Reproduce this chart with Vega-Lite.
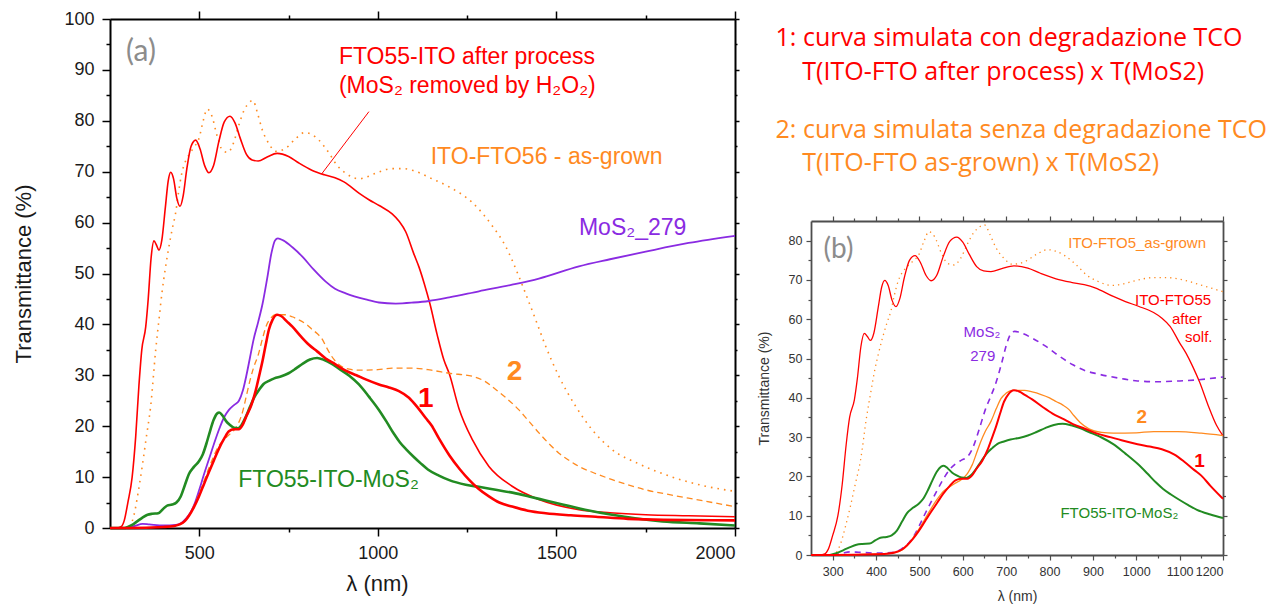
{
  "$schema": "https://vega.github.io/schema/vega-lite/v6.json",
  "background": "white",
  "padding": {"left": 12, "top": 10, "right": 5, "bottom": 5},
  "config": {
    "font": "Liberation Sans",
    "view": {"stroke": null},
    "axis": {"labelFont": "Liberation Sans", "titleFont": "Liberation Sans", "grid": false, "titleFontWeight": "normal", "labelOverlap": false},
    "text": {"font": "Liberation Sans"}
  },
  "datasets": {
    "spectra": [
      {"series":"after","wl":250,"T":0},{"series":"after","wl":270,"T":0},{"series":"after","wl":282,"T":0.3},{"series":"after","wl":290,"T":1.5},{"series":"after","wl":300,"T":5},{"series":"after","wl":312,"T":10},{"series":"after","wl":322,"T":18},{"series":"after","wl":331,"T":28},{"series":"after","wl":339,"T":35},{"series":"after","wl":350,"T":39.5},{"series":"after","wl":357,"T":45},{"series":"after","wl":365,"T":53},{"series":"after","wl":373,"T":56.4},{"series":"after","wl":380,"T":55.6},{"series":"after","wl":387,"T":54.6},{"series":"after","wl":395,"T":56.5},{"series":"after","wl":405,"T":63},{"series":"after","wl":413,"T":68.2},{"series":"after","wl":420,"T":69.9},{"series":"after","wl":428,"T":68.6},{"series":"after","wl":437,"T":64.8},{"series":"after","wl":446,"T":63.2},{"series":"after","wl":455,"T":65.3},{"series":"after","wl":465,"T":70.5},{"series":"after","wl":477,"T":75},{"series":"after","wl":490,"T":76.2},{"series":"after","wl":502,"T":74.5},{"series":"after","wl":515,"T":71.2},{"series":"after","wl":527,"T":69.8},{"series":"after","wl":540,"T":71.2},{"series":"after","wl":555,"T":76},{"series":"after","wl":570,"T":79.8},{"series":"after","wl":586,"T":80.9},{"series":"after","wl":600,"T":79.6},{"series":"after","wl":615,"T":76.5},{"series":"after","wl":632,"T":73.4},{"series":"after","wl":648,"T":72.3},{"series":"after","wl":665,"T":72.1},{"series":"after","wl":690,"T":72.9},{"series":"after","wl":718,"T":73.6},{"series":"after","wl":750,"T":73},{"series":"after","wl":779,"T":71.7},{"series":"after","wl":815,"T":70.3},{"series":"after","wl":850,"T":69.4},{"series":"after","wl":880,"T":68.8},{"series":"after","wl":905,"T":68},{"series":"after","wl":947,"T":65.8},{"series":"after","wl":975,"T":64.5},{"series":"after","wl":1005,"T":63.3},{"series":"after","wl":1040,"T":61.7},{"series":"after","wl":1060,"T":60.2},{"series":"after","wl":1078,"T":58.2},{"series":"after","wl":1100,"T":54},{"series":"after","wl":1115,"T":51.3},{"series":"after","wl":1130,"T":48},{"series":"after","wl":1146,"T":44},{"series":"after","wl":1166,"T":38},{"series":"after","wl":1185,"T":33},{"series":"after","wl":1200,"T":30.3},{"series":"after","wl":1227,"T":23.5},{"series":"after","wl":1265,"T":17.3},{"series":"after","wl":1311,"T":12.1},{"series":"after","wl":1376,"T":8.2},{"series":"after","wl":1451,"T":5.6},{"series":"after","wl":1563,"T":3.6},{"series":"after","wl":1650,"T":3},{"series":"after","wl":1750,"T":2.6},{"series":"after","wl":1870,"T":2.4},{"series":"after","wl":2000,"T":2.2},

      {"series":"asgrown","wl":250,"T":0},{"series":"asgrown","wl":300,"T":0},{"series":"asgrown","wl":317,"T":2.5},{"series":"asgrown","wl":330,"T":7.5},{"series":"asgrown","wl":340,"T":12},{"series":"asgrown","wl":352,"T":18},{"series":"asgrown","wl":364,"T":24},{"series":"asgrown","wl":378,"T":35},{"series":"asgrown","wl":388,"T":41.5},{"series":"asgrown","wl":396,"T":46.5},{"series":"asgrown","wl":405,"T":51},{"series":"asgrown","wl":415,"T":55.3},{"series":"asgrown","wl":425,"T":59},{"series":"asgrown","wl":434,"T":62},{"series":"asgrown","wl":442,"T":66},{"series":"asgrown","wl":451,"T":69.7},{"series":"asgrown","wl":461,"T":72},{"series":"asgrown","wl":471,"T":73.3},{"series":"asgrown","wl":485,"T":74.8},{"series":"asgrown","wl":499,"T":76.5},{"series":"asgrown","wl":511,"T":80},{"series":"asgrown","wl":522,"T":82.3},{"series":"asgrown","wl":535,"T":81},{"series":"asgrown","wl":550,"T":77},{"series":"asgrown","wl":565,"T":74.2},{"series":"asgrown","wl":580,"T":73.8},{"series":"asgrown","wl":595,"T":75.5},{"series":"asgrown","wl":610,"T":79},{"series":"asgrown","wl":625,"T":82},{"series":"asgrown","wl":640,"T":83.6},{"series":"asgrown","wl":650,"T":84},{"series":"asgrown","wl":663,"T":81.5},{"series":"asgrown","wl":676,"T":78.3},{"series":"asgrown","wl":695,"T":75.5},{"series":"asgrown","wl":714,"T":74},{"series":"asgrown","wl":742,"T":74.6},{"series":"asgrown","wl":770,"T":76.5},{"series":"asgrown","wl":795,"T":77.7},{"series":"asgrown","wl":815,"T":77.3},{"series":"asgrown","wl":835,"T":76.2},{"series":"asgrown","wl":863,"T":73.7},{"series":"asgrown","wl":885,"T":71.3},{"series":"asgrown","wl":910,"T":69.7},{"series":"asgrown","wl":947,"T":68.6},{"series":"asgrown","wl":970,"T":69},{"series":"asgrown","wl":994,"T":69.7},{"series":"asgrown","wl":1040,"T":70.6},{"series":"asgrown","wl":1070,"T":70.6},{"series":"asgrown","wl":1100,"T":70.2},{"series":"asgrown","wl":1152,"T":68.6},{"series":"asgrown","wl":1200,"T":67},{"series":"asgrown","wl":1265,"T":63.9},{"series":"asgrown","wl":1321,"T":59.3},{"series":"asgrown","wl":1358,"T":55.3},{"series":"asgrown","wl":1395,"T":49.4},{"series":"asgrown","wl":1414,"T":46},{"series":"asgrown","wl":1442,"T":40.9},{"series":"asgrown","wl":1470,"T":35.7},{"series":"asgrown","wl":1507,"T":29.8},{"series":"asgrown","wl":1554,"T":23.9},{"series":"asgrown","wl":1600,"T":19.3},{"series":"asgrown","wl":1656,"T":15.4},{"series":"asgrown","wl":1731,"T":12.6},{"series":"asgrown","wl":1825,"T":10},{"series":"asgrown","wl":1918,"T":8.2},{"series":"asgrown","wl":2000,"T":7.2},

      {"series":"mos2","wl":250,"T":0},{"series":"mos2","wl":300,"T":0},{"series":"mos2","wl":320,"T":0.4},{"series":"mos2","wl":341,"T":0.8},{"series":"mos2","wl":360,"T":0.7},{"series":"mos2","wl":400,"T":0.5},{"series":"mos2","wl":434,"T":0.6},{"series":"mos2","wl":450,"T":1},{"series":"mos2","wl":462,"T":1.8},{"series":"mos2","wl":475,"T":3},{"series":"mos2","wl":487,"T":4.8},{"series":"mos2","wl":499,"T":7.3},{"series":"mos2","wl":513,"T":10.5},{"series":"mos2","wl":527,"T":13.5},{"series":"mos2","wl":541,"T":16.5},{"series":"mos2","wl":555,"T":19.3},{"series":"mos2","wl":570,"T":21.8},{"series":"mos2","wl":583,"T":23.2},{"series":"mos2","wl":598,"T":24.2},{"series":"mos2","wl":611,"T":25},{"series":"mos2","wl":622,"T":27},{"series":"mos2","wl":632,"T":30},{"series":"mos2","wl":642,"T":33.5},{"series":"mos2","wl":652,"T":37},{"series":"mos2","wl":665,"T":40.5},{"series":"mos2","wl":677,"T":44},{"series":"mos2","wl":690,"T":49},{"series":"mos2","wl":702,"T":54},{"series":"mos2","wl":712,"T":56.5},{"series":"mos2","wl":720,"T":56.9},{"series":"mos2","wl":735,"T":56.5},{"series":"mos2","wl":760,"T":55.2},{"series":"mos2","wl":790,"T":53.2},{"series":"mos2","wl":820,"T":50.8},{"series":"mos2","wl":854,"T":48.4},{"series":"mos2","wl":880,"T":47},{"series":"mos2","wl":910,"T":46.1},{"series":"mos2","wl":966,"T":44.9},{"series":"mos2","wl":1003,"T":44.3},{"series":"mos2","wl":1050,"T":44.1},{"series":"mos2","wl":1100,"T":44.3},{"series":"mos2","wl":1143,"T":44.6},{"series":"mos2","wl":1200,"T":45.3},{"series":"mos2","wl":1283,"T":46.5},{"series":"mos2","wl":1376,"T":47.8},{"series":"mos2","wl":1451,"T":49},{"series":"mos2","wl":1563,"T":51.4},{"series":"mos2","wl":1650,"T":52.8},{"series":"mos2","wl":1750,"T":54.3},{"series":"mos2","wl":1870,"T":56},{"series":"mos2","wl":2000,"T":57.4},

      {"series":"sim1","wl":250,"T":0},{"series":"sim1","wl":300,"T":0},{"series":"sim1","wl":400,"T":0.2},{"series":"sim1","wl":430,"T":0.4},{"series":"sim1","wl":445,"T":0.7},{"series":"sim1","wl":460,"T":1.4},{"series":"sim1","wl":471,"T":2.4},{"series":"sim1","wl":485,"T":4.1},{"series":"sim1","wl":499,"T":6.2},{"series":"sim1","wl":513,"T":8.6},{"series":"sim1","wl":527,"T":11},{"series":"sim1","wl":541,"T":13.3},{"series":"sim1","wl":555,"T":15.6},{"series":"sim1","wl":570,"T":17.6},{"series":"sim1","wl":583,"T":19},{"series":"sim1","wl":597,"T":19.4},{"series":"sim1","wl":611,"T":19.4},{"series":"sim1","wl":621,"T":20.2},{"series":"sim1","wl":632,"T":22},{"series":"sim1","wl":645,"T":24},{"series":"sim1","wl":658,"T":27},{"series":"sim1","wl":668,"T":30},{"series":"sim1","wl":677,"T":32.8},{"series":"sim1","wl":686,"T":36},{"series":"sim1","wl":695,"T":39},{"series":"sim1","wl":705,"T":40.9},{"series":"sim1","wl":718,"T":41.9},{"series":"sim1","wl":730,"T":41.6},{"series":"sim1","wl":745,"T":40.6},{"series":"sim1","wl":760,"T":39.6},{"series":"sim1","wl":785,"T":37.6},{"series":"sim1","wl":807,"T":36},{"series":"sim1","wl":830,"T":34.7},{"series":"sim1","wl":854,"T":33.3},{"series":"sim1","wl":880,"T":32.2},{"series":"sim1","wl":910,"T":30.9},{"series":"sim1","wl":940,"T":30},{"series":"sim1","wl":966,"T":29.2},{"series":"sim1","wl":1003,"T":28.2},{"series":"sim1","wl":1031,"T":27.6},{"series":"sim1","wl":1059,"T":26.9},{"series":"sim1","wl":1087,"T":25.6},{"series":"sim1","wl":1110,"T":23.8},{"series":"sim1","wl":1134,"T":21.6},{"series":"sim1","wl":1150,"T":20.2},{"series":"sim1","wl":1171,"T":17.6},{"series":"sim1","wl":1200,"T":14.3},{"series":"sim1","wl":1230,"T":11.5},{"series":"sim1","wl":1255,"T":9.5},{"series":"sim1","wl":1280,"T":7.8},{"series":"sim1","wl":1311,"T":6.2},{"series":"sim1","wl":1340,"T":5},{"series":"sim1","wl":1376,"T":4.2},{"series":"sim1","wl":1420,"T":3.4},{"series":"sim1","wl":1470,"T":2.9},{"series":"sim1","wl":1540,"T":2.5},{"series":"sim1","wl":1610,"T":2.2},{"series":"sim1","wl":1700,"T":1.8},{"series":"sim1","wl":1800,"T":1.6},{"series":"sim1","wl":2000,"T":1.5},

      {"series":"sim2","wl":250,"T":0},{"series":"sim2","wl":300,"T":0},{"series":"sim2","wl":400,"T":0.2},{"series":"sim2","wl":443,"T":0.6},{"series":"sim2","wl":460,"T":1.3},{"series":"sim2","wl":471,"T":2.3},{"series":"sim2","wl":485,"T":4.3},{"series":"sim2","wl":499,"T":6.6},{"series":"sim2","wl":513,"T":9.2},{"series":"sim2","wl":527,"T":11.8},{"series":"sim2","wl":541,"T":14.2},{"series":"sim2","wl":555,"T":16.2},{"series":"sim2","wl":570,"T":17.4},{"series":"sim2","wl":583,"T":18.3},{"series":"sim2","wl":597,"T":19.2},{"series":"sim2","wl":611,"T":20.8},{"series":"sim2","wl":622,"T":23},{"series":"sim2","wl":632,"T":26},{"series":"sim2","wl":642,"T":29},{"series":"sim2","wl":652,"T":31.5},{"series":"sim2","wl":665,"T":34},{"series":"sim2","wl":677,"T":37.2},{"series":"sim2","wl":688,"T":39.8},{"series":"sim2","wl":700,"T":41.2},{"series":"sim2","wl":714,"T":41.9},{"series":"sim2","wl":742,"T":41.9},{"series":"sim2","wl":760,"T":41.5},{"series":"sim2","wl":779,"T":40.9},{"series":"sim2","wl":800,"T":40},{"series":"sim2","wl":816,"T":39},{"series":"sim2","wl":830,"T":38.2},{"series":"sim2","wl":845,"T":37},{"series":"sim2","wl":856,"T":35.5},{"series":"sim2","wl":870,"T":33.8},{"series":"sim2","wl":891,"T":32.1},{"series":"sim2","wl":920,"T":31.2},{"series":"sim2","wl":947,"T":31},{"series":"sim2","wl":1000,"T":31.1},{"series":"sim2","wl":1040,"T":31.4},{"series":"sim2","wl":1096,"T":31.4},{"series":"sim2","wl":1150,"T":31},{"series":"sim2","wl":1200,"T":30.4},{"series":"sim2","wl":1265,"T":29.8},{"series":"sim2","wl":1300,"T":28.8},{"series":"sim2","wl":1330,"T":27.2},{"series":"sim2","wl":1360,"T":25.5},{"series":"sim2","wl":1395,"T":23.2},{"series":"sim2","wl":1420,"T":21.2},{"series":"sim2","wl":1451,"T":18.7},{"series":"sim2","wl":1480,"T":16.5},{"series":"sim2","wl":1507,"T":14.7},{"series":"sim2","wl":1535,"T":13.3},{"series":"sim2","wl":1563,"T":12.1},{"series":"sim2","wl":1610,"T":10.7},{"series":"sim2","wl":1656,"T":9.5},{"series":"sim2","wl":1700,"T":8.5},{"series":"sim2","wl":1750,"T":7.5},{"series":"sim2","wl":1820,"T":6.5},{"series":"sim2","wl":1890,"T":5.6},{"series":"sim2","wl":2000,"T":4.2},

      {"series":"meas","wl":250,"T":0},{"series":"meas","wl":290,"T":0},{"series":"meas","wl":300,"T":0.2},{"series":"meas","wl":312,"T":0.6},{"series":"meas","wl":326,"T":1.3},{"series":"meas","wl":340,"T":2},{"series":"meas","wl":355,"T":2.6},{"series":"meas","wl":368,"T":2.8},{"series":"meas","wl":385,"T":2.9},{"series":"meas","wl":398,"T":3.7},{"series":"meas","wl":410,"T":4.4},{"series":"meas","wl":424,"T":4.6},{"series":"meas","wl":436,"T":5},{"series":"meas","wl":448,"T":6.2},{"series":"meas","wl":460,"T":8.5},{"series":"meas","wl":471,"T":10.6},{"series":"meas","wl":485,"T":12},{"series":"meas","wl":499,"T":13.1},{"series":"meas","wl":510,"T":14.5},{"series":"meas","wl":520,"T":16.6},{"series":"meas","wl":530,"T":19},{"series":"meas","wl":540,"T":21.2},{"series":"meas","wl":550,"T":22.5},{"series":"meas","wl":556,"T":22.7},{"series":"meas","wl":565,"T":22.1},{"series":"meas","wl":575,"T":21},{"series":"meas","wl":585,"T":20.3},{"series":"meas","wl":597,"T":19.7},{"series":"meas","wl":608,"T":19.6},{"series":"meas","wl":618,"T":20.2},{"series":"meas","wl":630,"T":21.8},{"series":"meas","wl":642,"T":23.8},{"series":"meas","wl":655,"T":25.8},{"series":"meas","wl":668,"T":27.2},{"series":"meas","wl":680,"T":28.3},{"series":"meas","wl":695,"T":28.9},{"series":"meas","wl":710,"T":29.4},{"series":"meas","wl":730,"T":29.8},{"series":"meas","wl":750,"T":30.4},{"series":"meas","wl":770,"T":31.3},{"series":"meas","wl":790,"T":32.3},{"series":"meas","wl":810,"T":33.1},{"series":"meas","wl":830,"T":33.4},{"series":"meas","wl":850,"T":33},{"series":"meas","wl":870,"T":32.3},{"series":"meas","wl":891,"T":31.3},{"series":"meas","wl":920,"T":29.9},{"series":"meas","wl":947,"T":28.2},{"series":"meas","wl":975,"T":25.8},{"series":"meas","wl":1003,"T":23.2},{"series":"meas","wl":1025,"T":20.8},{"series":"meas","wl":1045,"T":18.5},{"series":"meas","wl":1062,"T":16.8},{"series":"meas","wl":1080,"T":15.4},{"series":"meas","wl":1100,"T":14},{"series":"meas","wl":1120,"T":12.7},{"series":"meas","wl":1140,"T":11.5},{"series":"meas","wl":1171,"T":10.3},{"series":"meas","wl":1200,"T":9.4},{"series":"meas","wl":1246,"T":8.5},{"series":"meas","wl":1290,"T":8},{"series":"meas","wl":1330,"T":7.5},{"series":"meas","wl":1380,"T":6.9},{"series":"meas","wl":1423,"T":6.2},{"series":"meas","wl":1470,"T":5.4},{"series":"meas","wl":1517,"T":4.6},{"series":"meas","wl":1580,"T":3.6},{"series":"meas","wl":1656,"T":2.6},{"series":"meas","wl":1720,"T":1.9},{"series":"meas","wl":1797,"T":1.3},{"series":"meas","wl":1900,"T":0.9},{"series":"meas","wl":2000,"T":0.5}
    ],
    "labelsA": [
      {"series":"after","wl":891,"T":92.6,"text":"FTO55-ITO after process"},
      {"series":"after","wl":891,"T":86.9,"text":"(MoS₂ removed by H₂O₂)"},
      {"series":"asgrown","wl":1148,"T":72.8,"text":"ITO-FTO56 - as-grown"},
      {"series":"mos2","wl":1563,"T":59,"text":"MoS₂_279"},
      {"series":"meas","wl":609,"T":9.5,"text":"FTO55-ITO-MoS₂"}
    ],
    "numbersA": [
      {"series":"sim1","wl":1134,"T":25.3,"text":"1"},
      {"series":"sim2","wl":1383,"T":30.6,"text":"2"}
    ],
    "pointerA": [
      {"series":"after","wl":975,"T":81.8,"wl2":843,"T2":69.6}
    ],
    "tagA": [{"wl":295,"T":93.6,"text":"(a)"}],
    "labelsB": [
      {"series":"asgrown","wl":1002,"T":79.5,"text":"ITO-FTO5_as-grown"},
      {"series":"after","wl":1085,"T":65,"text":"ITO-FTO55"},
      {"series":"after","wl":1117,"T":60.1,"text":"after"},
      {"series":"after","wl":1144,"T":55.4,"text":"solf."},
      {"series":"mos2","wl":644,"T":56.7,"text":"MoS₂"},
      {"series":"mos2","wl":646,"T":50.6,"text":"279"},
      {"series":"meas","wl":961,"T":10.6,"text":"FTO55-ITO-MoS₂"}
    ],
    "numbersB": [
      {"series":"sim2","wl":1013,"T":35,"text":"2"},
      {"series":"sim1","wl":1146,"T":24,"text":"1"}
    ],
    "tagB": [{"wl":279,"T":77.5,"text":"(b)"}],
    "notes": [
      {"curve":"1","x":-0.086,"y":0.107,"text":"1: curva simulata con degradazione TCO"},
      {"curve":"1","x":-0.021,"y":0.293,"text":"T(ITO-FTO after process) x T(MoS2)"},
      {"curve":"2","x":-0.086,"y":0.617,"text":"2: curva simulata senza degradazione TCO"},
      {"curve":"2","x":-0.021,"y":0.8,"text":"T(ITO-FTO as-grown) x T(MoS2)"}
    ]
  },
  "bounds": "flush",
  "spacing": 76,
  "hconcat": [
    {
      "width": 625,
      "height": 509,
      "data": {"name": "spectra"},
      "resolve": {"axis": {"x": "independent", "y": "independent"}},
      "layer": [
        {
          "transform": [{"filter": "datum.series === 'asgrown'"}],
          "mark": {"type": "line", "color": "#ff8a1f", "strokeWidth": 1.6, "strokeDash": [1.6, 5], "interpolate": "monotone"},
          "encoding": {
            "x": {"field": "wl", "type": "quantitative", "scale": {"domain": [250, 2000], "nice": false, "zero": false},
              "axis": {"orient": "bottom", "values": [500, 1000, 1500, 2000], "format": "d", "title": "λ (nm)", "titleFontSize": 22, "titleX": 267, "titlePadding": 11, "labelFontSize": 18, "labelPadding": 8, "labelColor": "#1a1a1a", "titleColor": "#1a1a1a", "tickSize": 8, "tickWidth": 1.5, "tickColor": "#000", "domainColor": "#000", "domainWidth": 2}},
            "y": {"field": "T", "type": "quantitative", "scale": {"domain": [0, 100], "nice": false, "zero": false},
              "axis": {"orient": "left", "values": [0, 10, 20, 30, 40, 50, 60, 70, 80, 90, 100], "title": "Transmittance (%)", "titleFontSize": 22, "titlePadding": 28, "labelFontSize": 18, "labelPadding": 8, "labelColor": "#1a1a1a", "titleColor": "#1a1a1a", "tickSize": 8, "tickWidth": 1.5, "tickColor": "#000", "domainColor": "#000", "domainWidth": 2}}
          }
        },
        {
          "transform": [{"filter": "datum.series === 'after'"}],
          "mark": {"type": "line", "color": "#ff0000", "strokeWidth": 1.6, "interpolate": "monotone"},
          "encoding": {
            "x": {"field": "wl", "type": "quantitative", "scale": {"domain": [250, 2000], "nice": false, "zero": false},
              "axis": {"orient": "bottom", "values": [750, 1250, 1750], "labels": false, "title": null, "domain": false, "tickSize": 4, "tickWidth": 1.5, "tickColor": "#000"}},
            "y": {"field": "T", "type": "quantitative", "scale": {"domain": [0, 100], "nice": false, "zero": false},
              "axis": {"orient": "left", "values": [5, 15, 25, 35, 45, 55, 65, 75, 85, 95], "labels": false, "title": null, "domain": false, "tickSize": 4, "tickWidth": 1.5, "tickColor": "#000"}}
          }
        },
        {
          "transform": [{"filter": "datum.series === 'mos2'"}],
          "mark": {"type": "line", "color": "#8a2be2", "strokeWidth": 1.8, "interpolate": "monotone"},
          "encoding": {
            "x": {"field": "wl", "type": "quantitative", "scale": {"domain": [250, 2000], "nice": false, "zero": false},
              "axis": {"orient": "top", "values": [500, 1000, 1500, 2000], "labels": false, "title": null, "tickSize": 8, "tickWidth": 1.5, "tickColor": "#000", "domainColor": "#000", "domainWidth": 2}},
            "y": {"field": "T", "type": "quantitative", "scale": {"domain": [0, 100], "nice": false, "zero": false},
              "axis": {"orient": "right", "values": [0, 10, 20, 30, 40, 50, 60, 70, 80, 90, 100], "labels": false, "title": null, "tickSize": 4, "tickWidth": 1.5, "tickColor": "#000", "domainColor": "#000", "domainWidth": 2}}
          }
        },
        {
          "transform": [{"filter": "datum.series === 'sim2'"}],
          "mark": {"type": "line", "color": "#ff8a1f", "strokeWidth": 1.3, "strokeDash": [6, 4], "interpolate": "monotone"},
          "encoding": {
            "x": {"field": "wl", "type": "quantitative", "scale": {"domain": [250, 2000], "nice": false, "zero": false},
              "axis": {"orient": "top", "values": [750, 1250, 1750], "labels": false, "title": null, "domain": false, "tickSize": 4, "tickWidth": 1.5, "tickColor": "#000"}},
            "y": {"field": "T", "type": "quantitative", "scale": {"domain": [0, 100], "nice": false, "zero": false},
              "axis": {"orient": "right", "values": [5, 15, 25, 35, 45, 55, 65, 75, 85, 95], "labels": false, "title": null, "domain": false, "tickSize": 2, "tickWidth": 1.5, "tickColor": "#000"}}
          }
        },
        {
          "transform": [{"filter": "datum.series === 'meas'"}],
          "mark": {"type": "line", "color": "#228b22", "strokeWidth": 2.6, "interpolate": "monotone"},
          "encoding": {
            "x": {"field": "wl", "type": "quantitative", "scale": {"domain": [250, 2000], "nice": false, "zero": false}, "axis": null},
            "y": {"field": "T", "type": "quantitative", "scale": {"domain": [0, 100], "nice": false, "zero": false}, "axis": null}
          }
        },
        {
          "transform": [{"filter": "datum.series === 'sim1'"}],
          "mark": {"type": "line", "color": "#ff0000", "strokeWidth": 2.6, "interpolate": "monotone"},
          "encoding": {
            "x": {"field": "wl", "type": "quantitative", "scale": {"domain": [250, 2000], "nice": false, "zero": false}, "axis": null},
            "y": {"field": "T", "type": "quantitative", "scale": {"domain": [0, 100], "nice": false, "zero": false}, "axis": null}
          }
        },
        {
          "data": {"name": "pointerA"},
          "mark": {"type": "rule", "color": "#ff0000", "strokeWidth": 1},
          "encoding": {
            "x": {"field": "wl", "type": "quantitative", "scale": {"domain": [250, 2000], "nice": false, "zero": false}, "axis": null},
            "y": {"field": "T", "type": "quantitative", "scale": {"domain": [0, 100], "nice": false, "zero": false}, "axis": null},
            "x2": {"field": "wl2"},
            "y2": {"field": "T2"}
          }
        },
        {
          "data": {"name": "labelsA"},
          "mark": {"type": "text", "fontSize": 23, "align": "left", "baseline": "middle"},
          "encoding": {
            "x": {"field": "wl", "type": "quantitative", "scale": {"domain": [250, 2000], "nice": false, "zero": false}, "axis": null},
            "y": {"field": "T", "type": "quantitative", "scale": {"domain": [0, 100], "nice": false, "zero": false}, "axis": null},
            "text": {"field": "text"},
            "color": {"field": "series", "type": "nominal", "legend": null,
              "scale": {"domain": ["after", "asgrown", "mos2", "sim1", "sim2", "meas"], "range": ["#ff0000", "#ff8a1f", "#8a2be2", "#ff0000", "#ff8a1f", "#228b22"]}}
          }
        },
        {
          "data": {"name": "numbersA"},
          "mark": {"type": "text", "fontSize": 28, "fontWeight": "bold", "align": "center", "baseline": "middle"},
          "encoding": {
            "x": {"field": "wl", "type": "quantitative", "scale": {"domain": [250, 2000], "nice": false, "zero": false}, "axis": null},
            "y": {"field": "T", "type": "quantitative", "scale": {"domain": [0, 100], "nice": false, "zero": false}, "axis": null},
            "text": {"field": "text"},
            "color": {"field": "series", "type": "nominal", "legend": null,
              "scale": {"domain": ["after", "asgrown", "mos2", "sim1", "sim2", "meas"], "range": ["#ff0000", "#ff8a1f", "#8a2be2", "#ff0000", "#ff8a1f", "#228b22"]}}
          }
        },
        {
          "data": {"name": "tagA"},
          "mark": {"type": "text", "font": "Lato", "fontSize": 30, "align": "left", "baseline": "middle", "color": "#8c8c8c"},
          "encoding": {
            "x": {"field": "wl", "type": "quantitative", "scale": {"domain": [250, 2000], "nice": false, "zero": false}, "axis": null},
            "y": {"field": "T", "type": "quantitative", "scale": {"domain": [0, 100], "nice": false, "zero": false}, "axis": null},
            "text": {"field": "text"}
          }
        }
      ]
    },
    {
      "bounds": "flush",
      "spacing": 22,
      "vconcat": [
        {
          "width": 412,
          "height": 180,
          "data": {"name": "notes"},
          "mark": {"type": "text", "font": "Open Sans", "fontSize": 25, "align": "left", "baseline": "middle"},
          "encoding": {
            "x": {"field": "x", "type": "quantitative", "scale": {"domain": [0, 1]}, "axis": null},
            "y": {"field": "y", "type": "quantitative", "scale": {"domain": [0, 1], "reverse": true}, "axis": null},
            "text": {"field": "text"},
            "color": {"field": "curve", "type": "nominal", "legend": null, "scale": {"domain": ["1", "2"], "range": ["#ff0000", "#ed7d31"]}}
          }
        },
        {
          "width": 412,
          "height": 334,
          "data": {"name": "spectra"},
          "transform": [{"filter": "datum.wl <= 1200"}],
          "resolve": {"axis": {"x": "independent", "y": "independent"}},
          "layer": [
            {
              "transform": [{"filter": "datum.series === 'asgrown'"}],
              "mark": {"type": "line", "color": "#ff8a1f", "strokeWidth": 1.3, "strokeDash": [1.3, 4], "interpolate": "monotone"},
              "encoding": {
                "x": {"field": "wl", "type": "quantitative", "scale": {"domain": [250, 1200], "nice": false, "zero": false},
                  "axis": {"orient": "bottom", "values": [300, 400, 500, 600, 700, 800, 900, 1000, 1100, 1200], "format": "d", "title": "λ (nm)", "titleFontSize": 14, "titlePadding": 12, "labelFontSize": 12.5, "labelPadding": 5, "labelColor": "#333", "titleColor": "#333", "tickSize": 5, "tickWidth": 1.2, "tickColor": "#4d4d4d", "domainColor": "#4d4d4d", "domainWidth": 1.8}},
                "y": {"field": "T", "type": "quantitative", "scale": {"domain": [0, 85], "nice": false, "zero": false},
                  "axis": {"orient": "left", "values": [0, 10, 20, 30, 40, 50, 60, 70, 80], "title": "Transmittance (%)", "titleFontSize": 14, "titlePadding": 17, "labelFontSize": 12.5, "labelPadding": 4, "labelColor": "#333", "titleColor": "#333", "tickSize": 5, "tickWidth": 1.2, "tickColor": "#4d4d4d", "domainColor": "#4d4d4d", "domainWidth": 1.8}}
              }
            },
            {
              "transform": [{"filter": "datum.series === 'after'"}],
              "mark": {"type": "line", "color": "#ff0000", "strokeWidth": 1.3, "interpolate": "monotone"},
              "encoding": {
                "x": {"field": "wl", "type": "quantitative", "scale": {"domain": [250, 1200], "nice": false, "zero": false},
                  "axis": {"orient": "bottom", "values": [350, 450, 550, 650, 750, 850, 950, 1050, 1150], "labels": false, "title": null, "domain": false, "tickSize": 3, "tickWidth": 1.2, "tickColor": "#4d4d4d"}},
                "y": {"field": "T", "type": "quantitative", "scale": {"domain": [0, 85], "nice": false, "zero": false},
                  "axis": {"orient": "left", "values": [5, 15, 25, 35, 45, 55, 65, 75], "labels": false, "title": null, "domain": false, "tickSize": 3, "tickWidth": 1.2, "tickColor": "#4d4d4d"}}
              }
            },
            {
              "transform": [{"filter": "datum.series === 'mos2'"}],
              "mark": {"type": "line", "color": "#8a2be2", "strokeWidth": 1.6, "strokeDash": [6, 5], "interpolate": "monotone"},
              "encoding": {
                "x": {"field": "wl", "type": "quantitative", "scale": {"domain": [250, 1200], "nice": false, "zero": false},
                  "axis": {"orient": "top", "values": [300, 400, 500, 600, 700, 800, 900, 1000, 1100, 1200], "labels": false, "title": null, "tickSize": 5, "tickWidth": 1.2, "tickColor": "#4d4d4d", "domainColor": "#4d4d4d", "domainWidth": 1.8}},
                "y": {"field": "T", "type": "quantitative", "scale": {"domain": [0, 85], "nice": false, "zero": false},
                  "axis": {"orient": "right", "values": [0, 10, 20, 30, 40, 50, 60, 70, 80], "labels": false, "title": null, "tickSize": 4, "tickWidth": 1.2, "tickColor": "#4d4d4d", "domainColor": "#4d4d4d", "domainWidth": 1.8}}
              }
            },
            {
              "transform": [{"filter": "datum.series === 'sim2'"}],
              "mark": {"type": "line", "color": "#ff8a1f", "strokeWidth": 1.3, "interpolate": "monotone"},
              "encoding": {
                "x": {"field": "wl", "type": "quantitative", "scale": {"domain": [250, 1200], "nice": false, "zero": false},
                  "axis": {"orient": "top", "values": [350, 450, 550, 650, 750, 850, 950, 1050, 1150], "labels": false, "title": null, "domain": false, "tickSize": 3, "tickWidth": 1.2, "tickColor": "#4d4d4d"}},
                "y": {"field": "T", "type": "quantitative", "scale": {"domain": [0, 85], "nice": false, "zero": false},
                  "axis": {"orient": "right", "values": [5, 15, 25, 35, 45, 55, 65, 75], "labels": false, "title": null, "domain": false, "tickSize": 2.5, "tickWidth": 1.2, "tickColor": "#4d4d4d"}}
              }
            },
            {
              "transform": [{"filter": "datum.series === 'meas'"}],
              "mark": {"type": "line", "color": "#228b22", "strokeWidth": 2, "interpolate": "monotone"},
              "encoding": {
                "x": {"field": "wl", "type": "quantitative", "scale": {"domain": [250, 1200], "nice": false, "zero": false}, "axis": null},
                "y": {"field": "T", "type": "quantitative", "scale": {"domain": [0, 85], "nice": false, "zero": false}, "axis": null}
              }
            },
            {
              "transform": [{"filter": "datum.series === 'sim1'"}],
              "mark": {"type": "line", "color": "#ff0000", "strokeWidth": 2, "interpolate": "monotone"},
              "encoding": {
                "x": {"field": "wl", "type": "quantitative", "scale": {"domain": [250, 1200], "nice": false, "zero": false}, "axis": null},
                "y": {"field": "T", "type": "quantitative", "scale": {"domain": [0, 85], "nice": false, "zero": false}, "axis": null}
              }
            },
            {
              "data": {"name": "labelsB"},
              "mark": {"type": "text", "fontSize": 15, "align": "center", "baseline": "middle"},
              "encoding": {
                "x": {"field": "wl", "type": "quantitative", "scale": {"domain": [250, 1200], "nice": false, "zero": false}, "axis": null},
                "y": {"field": "T", "type": "quantitative", "scale": {"domain": [0, 85], "nice": false, "zero": false}, "axis": null},
                "text": {"field": "text"},
                "color": {"field": "series", "type": "nominal", "legend": null,
                  "scale": {"domain": ["after", "asgrown", "mos2", "sim1", "sim2", "meas"], "range": ["#ff0000", "#ff8a1f", "#8a2be2", "#ff0000", "#ff8a1f", "#228b22"]}}
              }
            },
            {
              "data": {"name": "numbersB"},
              "mark": {"type": "text", "fontSize": 19, "fontWeight": "bold", "align": "center", "baseline": "middle"},
              "encoding": {
                "x": {"field": "wl", "type": "quantitative", "scale": {"domain": [250, 1200], "nice": false, "zero": false}, "axis": null},
                "y": {"field": "T", "type": "quantitative", "scale": {"domain": [0, 85], "nice": false, "zero": false}, "axis": null},
                "text": {"field": "text"},
                "color": {"field": "series", "type": "nominal", "legend": null,
                  "scale": {"domain": ["after", "asgrown", "mos2", "sim1", "sim2", "meas"], "range": ["#ff0000", "#ff8a1f", "#8a2be2", "#ff0000", "#ff8a1f", "#228b22"]}}
              }
            },
            {
              "data": {"name": "tagB"},
              "mark": {"type": "text", "font": "Lato", "fontSize": 28, "align": "left", "baseline": "middle", "color": "#8c8c8c"},
              "encoding": {
                "x": {"field": "wl", "type": "quantitative", "scale": {"domain": [250, 1200], "nice": false, "zero": false}, "axis": null},
                "y": {"field": "T", "type": "quantitative", "scale": {"domain": [0, 85], "nice": false, "zero": false}, "axis": null},
                "text": {"field": "text"}
              }
            }
          ]
        }
      ]
    }
  ]
}
